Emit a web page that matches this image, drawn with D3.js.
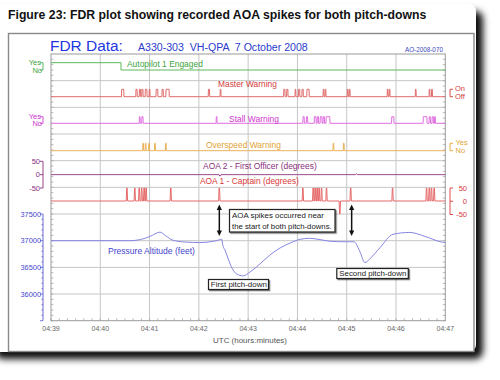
<!DOCTYPE html>
<html><head><meta charset="utf-8">
<script src="https://cdn.jsdelivr.net/npm/d3@7"></script>
<style>html,body{margin:0;padding:0;background:#fff;}svg{display:block;font-family:"Liberation Sans",Arial,sans-serif;}</style>
</head><body><svg id="c" width="500" height="380"></svg>
<script>
// ---------- DATA (times in minutes after 04:00 UTC) ----------
const timeTickMinutes = [39, 40, 41, 42, 43, 44, 45, 46, 47];
const timeTickLabels = ["04:39", "04:40", "04:41", "04:42", "04:43", "04:44", "04:45", "04:46", "04:47"];
const altitudeTicks = [36000, 36500, 37000, 37500];
const autopilotTimes = [39, 40.42, 47];
const autopilotStates = [1, 0, 0];
const masterWarningPulses = [
  [40.43, 40.48], [40.72, 40.75], [40.79, 40.82], [40.84, 40.87], [40.91, 40.95], [40.99, 41.01],
  [41.13, 41.17], [41.25, 41.28], [41.33, 41.40], [42.19, 42.22], [42.43, 42.45],
  [43.72, 43.75], [43.78, 43.81], [43.95, 43.97], [44.02, 44.05], [44.09, 44.12], [44.19, 44.24],
  [44.52, 44.54], [44.56, 44.58], [45.01, 45.03], [45.05, 45.07], [45.82, 45.84], [45.86, 45.88],
  [46.39, 46.41], [46.67, 46.69], [46.72, 46.74]
];
const stallWarningPulses = [
  [40.79, 40.81], [40.84, 40.87], [42.35, 42.37],
  [44.11, 44.14], [44.18, 44.21], [44.34, 44.38], [44.40, 44.43], [44.46, 44.50], [44.52, 44.55], [44.58, 44.66],
  [45.91, 45.96], [46.55, 46.63], [46.67, 46.70], [46.73, 46.76], [46.78, 46.80]
];
const overspeedSpikeTimes = [40.87, 40.92, 40.99, 41.11, 41.33, 44.73, 44.94];
const aoa1SpikeTimes = [40.54, 40.70, 40.79, 40.84, 40.89, 40.93, 41.43, 42.415,
  44.11, 44.32, 44.36, 44.40, 44.44, 44.49, 44.59, 44.86, 45.08, 45.93, 46.62, 46.675, 46.72, 46.775];
const aoa1SpikeValues = [50, 50, 50, 50, 50, 50, 50, 50,
  50, 50, 50, 50, 50, 50, 50, -48, 50, 50, 50, 50, 50, 50];
const aoa1Baseline = 1;
const aoa2BlipTimes = [42.43, 45.2];
const aoa2BlipValues = [-5, 3];
const aoa2Baseline = 0;
const altitudeTimes = [39.0, 40.60, 40.81, 41.01, 41.21, 41.33, 41.47, 41.72, 42.02, 42.27, 42.43, 42.46,
  42.49, 42.53, 42.59, 42.67, 42.77, 42.90, 43.04, 43.24, 43.44, 43.65, 43.85, 44.05, 44.25, 44.46,
  44.66, 44.96, 45.15, 45.19, 45.27, 45.37, 45.47, 45.67, 45.94, 46.28, 46.59, 46.95, 47.0];
const altitudeFeet = [37000, 37000, 37020, 37080, 37160, 37090, 37010, 36975, 36965, 36985, 37020, 37030,
  36900, 36825, 36675, 36490, 36375, 36340, 36415, 36565, 36730, 36865, 36955, 37025, 37045, 37020,
  36990, 36980, 36980, 36940, 36790, 36590, 36660, 36865, 37120, 37155, 37080, 36970, 36965];
const arrowTimes = [42.415, 45.10];

// ---------- DRAWING ----------
const svg = d3.select("#c");
const defs = svg.append("defs");
const flt = defs.append("filter").attr("id", "sh").attr("x", "-10%").attr("y", "-10%").attr("width", "130%").attr("height", "130%");
flt.append("feDropShadow").attr("dx", 7).attr("dy", 7).attr("stdDeviation", 3.5)
  .attr("flood-color", "#000").attr("flood-opacity", 0.95);
const bflt = defs.append("filter").attr("id", "bs").attr("x", "-10%").attr("y", "-20%").attr("width", "130%").attr("height", "160%");
bflt.append("feDropShadow").attr("dx", 1.2).attr("dy", 1.2).attr("stdDeviation", 0.6)
  .attr("flood-color", "#000").attr("flood-opacity", 0.5);

svg.append("rect").attr("x", -12).attr("y", 4).attr("width", 488).attr("height", 348).attr("rx", 8)
  .attr("fill", "#fff").attr("filter", "url(#sh)");

function fit(sel, width) {
  const fs = +sel.attr("font-size");
  const w = sel.node().getComputedTextLength();
  sel.attr("font-size", fs * width / w);
  return sel;
}
function label(x, y, txt, size, color, width, anchor) {
  const t = svg.append("text").attr("x", x).attr("y", y).attr("font-size", size)
    .attr("fill", color).style("white-space", "pre").attr("text-anchor", anchor || "start").text(txt);
  if (width) fit(t, width);
  return t;
}

// Figure title
fit(svg.append("text").attr("x", 8).attr("y", 18.5).attr("font-size", 11).attr("font-weight", "bold")
  .attr("fill", "#111").text("Figure 23: FDR plot showing recorded AOA spikes for both pitch-downs"), 419);

// Inner frame
svg.append("rect").attr("x", 8.5).attr("y", 33.5).attr("width", 465.5).attr("height", 318)
  .attr("fill", "#fff").attr("stroke", "#8a8a8a").attr("stroke-width", 1.4);

// Header
label(50, 51, "FDR Data:", 14, "#2236e0", 73);
label(138, 50.7, "A330-303  VH-QPA  7 October 2008", 9.5, "#2b3bcc", 170);
label(405, 51.5, "AO-2008-070", 6, "#3a4ac0", 38);

// Scales
const x = d3.scaleLinear().domain([39, 47]).range([51, 445.3]);
const yAlt = d3.scaleLinear().domain([35500, 40500]).range([320.7, 54]);
const yAP = d3.scaleLinear().domain([0, 1]).range([70, 62.7]);
const yMW = d3.scaleLinear().domain([0, 1]).range([96.7, 89.3]);
const ySW = d3.scaleLinear().domain([0, 1]).range([123.3, 116.7]);
const yOS = d3.scaleLinear().domain([0, 1]).range([150.7, 143.3]);
const yA2 = d3.scaleLinear().domain([-50, 50]).range([188, 161.3]);
const yA1 = d3.scaleLinear().domain([-50, 50]).range([214.5, 188]);

// Grid
const grid = svg.append("g");
grid.selectAll("line.v").data(timeTickMinutes.slice(1, -1)).join("line")
  .attr("x1", d => x(d)).attr("x2", d => x(d)).attr("y1", yAlt(40500)).attr("y2", yAlt(35500))
  .attr("stroke", "#c6c6c6").attr("stroke-width", 1);
grid.selectAll("line.h").data(d3.range(36000, 40500, 500)).join("line")
  .attr("x1", x(39)).attr("x2", x(47)).attr("y1", d => yAlt(d)).attr("y2", d => yAlt(d))
  .attr("stroke", "#c6c6c6").attr("stroke-width", 1);
// minor ticks bottom & right
grid.selectAll("line.mb").data(d3.range(39, 47, 1 / 6)).join("line")
  .attr("x1", d => x(d)).attr("x2", d => x(d)).attr("y1", yAlt(35500)).attr("y2", yAlt(35500) - 2.5)
  .attr("stroke", "#aaa").attr("stroke-width", 0.8);
grid.selectAll("line.mr").data(d3.range(35500, 40500, 100)).join("line")
  .attr("x1", x(47)).attr("x2", x(47) - 2.5).attr("y1", d => yAlt(d)).attr("y2", d => yAlt(d))
  .attr("stroke", "#aaa").attr("stroke-width", 0.8);
grid.selectAll("line.ml").data(d3.range(35500, 40500, 100)).join("line")
  .attr("x1", x(39)).attr("x2", x(39) + 2.5).attr("y1", d => yAlt(d)).attr("y2", d => yAlt(d))
  .attr("stroke", "#aaa").attr("stroke-width", 0.8);
svg.append("rect").attr("x", x(39)).attr("y", yAlt(40500)).attr("width", x(47) - x(39)).attr("height", yAlt(35500) - yAlt(40500))
  .attr("fill", "none").attr("stroke", "#9a9a9a").attr("stroke-width", 1);

// X axis labels
svg.append("g").selectAll("text").data(timeTickMinutes).join("text")
  .attr("x", d => x(d)).attr("y", 331).attr("text-anchor", "middle").attr("font-size", 7)
  .attr("fill", "#666").text((d, i) => timeTickLabels[i]);
label(250, 343.3, "UTC (hours:minutes)", 7.5, "#555", 74, "middle");

// helpers for traces
const line = (ys) => d3.line().x(d => x(d[0])).y(d => ys(d[1]));
function pulsePts(pulses) {
  const pts = [[39, 0]];
  pulses.forEach(([s, e]) => { pts.push([s, 0], [s + 0.004, 1], [e - 0.004, 1], [e, 0]); });
  pts.push([47, 0]);
  return pts;
}
function spikePts(times, vals, base, hw) {
  const pts = [[39, base]];
  times.forEach((t, i) => { pts.push([t - hw, base], [t - hw / 3, vals[i]], [t + hw / 3, vals[i]], [t + hw, base]); });
  pts.push([47, base]);
  return pts;
}
function trace(pts, ys, color, curve) {
  const l = line(ys); if (curve) l.curve(curve);
  svg.append("path").datum(pts).attr("d", l).attr("fill", "none").attr("stroke", color)
    .attr("stroke-width", 1).attr("stroke-linejoin", "round");
}

// Autopilot
trace(autopilotTimes.map((t, i) => [t, autopilotStates[i]]), yAP, "#5cb85c", d3.curveStepAfter);
// Master warning
trace(pulsePts(masterWarningPulses), yMW, "#e06a6a");
// Stall warning
trace(pulsePts(stallWarningPulses), ySW, "#e070e0");
// Overspeed
trace(pulsePts(overspeedSpikeTimes.map(t => [t - 0.01, t + 0.01])), yOS, "#eab25a");
// AOA 2
trace(spikePts(aoa2BlipTimes, aoa2BlipValues, aoa2Baseline, 0.02), yA2, "#9a4a8c");
// AOA 1
trace(spikePts(aoa1SpikeTimes, aoa1SpikeValues, aoa1Baseline, 0.014), yA1, "#e66a6a");
// Altitude
trace(altitudeTimes.map((t, i) => [t, altitudeFeet[i]]), yAlt, "#8686e2", d3.curveMonotoneX);

// Trace labels
label(127, 67, "Autopilot 1 Engaged", 8, "#3ea43e", 76);
label(218, 86.7, "Master Warning", 8, "#d43c3c", 59);
label(229, 122.3, "Stall Warning", 8, "#cf35cf", 50);
label(206, 147.7, "Overspeed Warning", 8, "#e2a334", 75);
label(203, 169.3, "AOA 2 - First Officer (degrees)", 8, "#8a2f7c", 114);
label(200, 184.3, "AOA 1 - Captain (degrees)", 8, "#d83838", 99);
label(108, 254.3, "Pressure Altitude (feet)", 8, "#4646cc", 87);

// Left / right scale brackets
function bracket(xv, ys, vals, dir, color) {
  const g = svg.append("g").attr("stroke", color).attr("stroke-width", 0.9).attr("fill", "none");
  g.append("line").attr("x1", xv).attr("x2", xv).attr("y1", ys(d3.min(vals))).attr("y2", ys(d3.max(vals)));
  g.selectAll("line.t").data(vals).join("line").attr("x1", xv).attr("x2", xv + dir * 3)
    .attr("y1", d => ys(d)).attr("y2", d => ys(d));
}
// Autopilot yes/no
bracket(43, yAP, [0, 1], -1, "#4caf50");
label(41, 65, "Yes", 7.5, "#3ea43e", null, "end");
label(42, 72.5, "No", 7.5, "#3ea43e", null, "end");
// Stall yes/no
bracket(43, ySW, [0, 1], -1, "#d040d0");
label(41, 118.5, "Yes", 7.5, "#cf35cf", null, "end");
label(42, 126.2, "No", 7.5, "#cf35cf", null, "end");
// AOA2 scale
bracket(43, yA2, [-50, 0, 50], -1, "#8a2f7c");
[[50, "50"], [0, "0"], [-50, "-50"]].forEach(([v, s]) => label(40, yA2(v) + 2.6, s, 7.5, "#8a2f7c", null, "end"));
// Altitude axis
svg.append("line").attr("x1", 43).attr("x2", 43).attr("y1", yAlt(37500)).attr("y2", yAlt(35500))
  .attr("stroke", "#5a5acc").attr("stroke-width", 0.9);
svg.append("g").selectAll("line").data(d3.range(35500, 37600, 100)).join("line")
  .attr("x1", 43).attr("x2", d => d % 500 === 0 ? 40 : 41.5).attr("y1", d => yAlt(d)).attr("y2", d => yAlt(d))
  .attr("stroke", "#5a5acc").attr("stroke-width", 0.8);
svg.append("g").selectAll("text").data(altitudeTicks).join("text")
  .attr("x", 41).attr("y", d => yAlt(d) + 2.8).attr("text-anchor", "end").attr("font-size", 7.4)
  .attr("fill", "#4646cc").text(d => d);
// Master warning On/Off (right)
bracket(450, yMW, [0, 1], 1, "#d43c3c");
label(455, 90.7, "On", 7.5, "#d43c3c");
label(455, 99.3, "Off", 7.5, "#d43c3c");
// Overspeed yes/no (right)
bracket(450, yOS, [0, 1], 1, "#e2a334");
label(455.5, 145, "Yes", 7.5, "#e2a334");
label(455.5, 153.3, "No", 7.5, "#e2a334");
// AOA1 scale (right)
bracket(450, yA1, [-50, 0, 50], 1, "#d83838");
[[50, "50"], [0, "0"], [-50, "-50"]].forEach(([v, s]) => label(467, yA1(v) + 2.6, s, 7.5, "#d83838", null, "end"));

// Annotations: double arrows
function dblArrow(xv, y1, y2) {
  const g = svg.append("g").attr("fill", "#111").attr("stroke", "#111");
  g.append("line").attr("x1", xv).attr("x2", xv).attr("y1", y1 + 4).attr("y2", y2 - 4).attr("stroke-width", 1.5);
  g.append("path").attr("d", `M${xv},${y1}L${xv - 2.6},${y1 + 5.5}L${xv + 2.6},${y1 + 5.5}Z`).attr("stroke", "none");
  g.append("path").attr("d", `M${xv},${y2}L${xv - 2.6},${y2 - 5.5}L${xv + 2.6},${y2 - 5.5}Z`).attr("stroke", "none");
}
arrowTimes.forEach(t => dblArrow(x(t), 204.5, 236));

function box(x0, y0, w, h) {
  svg.append("rect").attr("x", x0).attr("y", y0).attr("width", w).attr("height", h)
    .attr("fill", "#fff").attr("stroke", "#222").attr("stroke-width", 1.2).attr("filter", "url(#bs)");
}
box(229.5, 209.5, 105.5, 22.5);
label(232, 218.3, "AOA spikes occurred near", 7.5, "#222", 92);
label(232, 228.5, "the start of both pitch-downs.", 7.5, "#222", 100);
box(208.5, 279.5, 60, 10);
label(210.8, 287.2, "First pitch-down", 7.2, "#222", 56);
box(336.8, 268.5, 71.5, 10);
label(339.3, 276.2, "Second pitch-down", 7.2, "#222", 67);
</script></body></html>
